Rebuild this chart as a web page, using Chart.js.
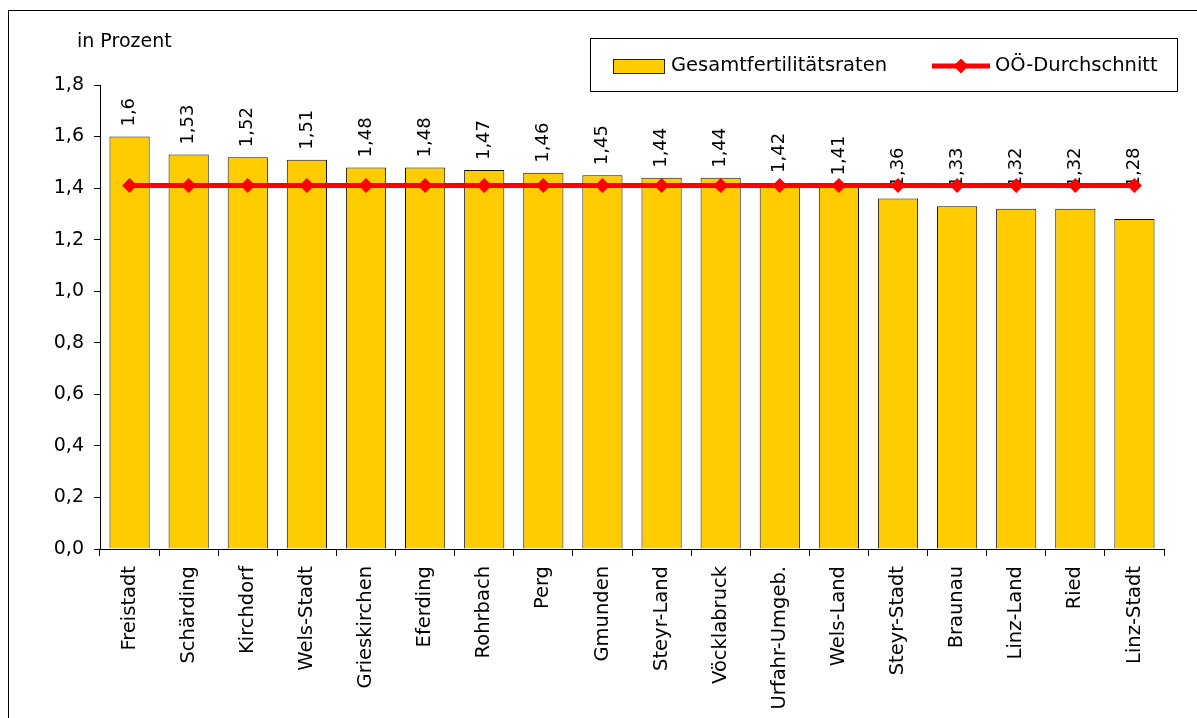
<!DOCTYPE html>
<html lang="de">
<head>
<meta charset="utf-8">
<title>Gesamtfertilitätsraten nach Bezirken</title>
<script src="https://cdn.jsdelivr.net/npm/chart.js@4/dist/chart.umd.min.js"></script>
<style>
  html, body { margin: 0; padding: 0; background: #fff; }
  #wrap { width: 1197px; height: 718px; }
</style>
</head>
<body>
<div id="wrap"><canvas id="c" width="1197" height="718"></canvas></div>
<script>
// Bezirke Oberösterreichs, absteigend nach Gesamtfertilitätsrate
const bezirke = ['Freistadt', 'Schärding', 'Kirchdorf', 'Wels-Stadt', 'Grieskirchen', 'Eferding',
  'Rohrbach', 'Perg', 'Gmunden', 'Steyr-Land', 'Vöcklabruck', 'Urfahr-Umgeb.', 'Wels-Land',
  'Steyr-Stadt', 'Braunau', 'Linz-Land', 'Ried', 'Linz-Stadt'];
const fertilitaet = [1.6, 1.53, 1.52, 1.51, 1.48, 1.48, 1.47, 1.46, 1.45, 1.44, 1.44, 1.42, 1.41,
  1.36, 1.33, 1.32, 1.32, 1.28];
const ooeDurchschnitt = [1.41, 1.41, 1.41, 1.41, 1.41, 1.41, 1.41, 1.41, 1.41, 1.41, 1.41, 1.41,
  1.41, 1.41, 1.41, 1.41, 1.41, 1.41];
const yTicks = { min: 0, max: 1.8, step: 0.2 };
const seriesNames = ['Gesamtfertilitätsraten', 'OÖ-Durchschnitt'];
const unitLabel = 'in Prozent';

const FONT = '"DejaVu Sans", Verdana, sans-serif';
const GOLD = '#FFCC00';
const RED = '#FF0000';
const fmt = v => v.toLocaleString('de-AT');

// Frame, unit caption and boxed legend
const decorations = {
  id: 'decorations',
  beforeDraw(chart) {
    const ctx = chart.ctx;
    ctx.save();
    ctx.fillStyle = '#fff';
    ctx.fillRect(0, 0, chart.width, chart.height);
    ctx.strokeStyle = '#000';
    ctx.lineWidth = 1;
    ctx.strokeRect(8.5, 10.5, chart.width + 20, chart.height + 20);
    ctx.restore();
  },
  afterDraw(chart) {
    const ctx = chart.ctx;
    ctx.save();
    ctx.fillStyle = '#000';
    ctx.font = '19px ' + FONT;
    ctx.textBaseline = 'middle';
    ctx.textAlign = 'left';
    ctx.fillText(unitLabel, 77, 42);

    // legend box
    ctx.strokeStyle = '#000';
    ctx.lineWidth = 1;
    ctx.fillStyle = '#fff';
    ctx.fillRect(590.5, 38.5, 587, 53);
    ctx.strokeRect(590.5, 38.5, 587, 53);
    // bar swatch
    ctx.fillStyle = GOLD;
    ctx.fillRect(613.5, 59.5, 51, 14);
    ctx.strokeStyle = '#222';
    ctx.strokeRect(613.5, 59.5, 51, 14);
    ctx.fillStyle = '#000';
    ctx.font = '19.5px ' + FONT;
    ctx.fillText(seriesNames[0], 671, 66);
    // line swatch
    ctx.strokeStyle = RED;
    ctx.lineWidth = 5;
    ctx.beginPath();
    ctx.moveTo(932, 66);
    ctx.lineTo(990, 66);
    ctx.stroke();
    ctx.fillStyle = RED;
    ctx.beginPath();
    ctx.moveTo(961, 58.5);
    ctx.lineTo(968.5, 66);
    ctx.lineTo(961, 73.5);
    ctx.lineTo(953.5, 66);
    ctx.closePath();
    ctx.fill();
    ctx.fillStyle = '#000';
    ctx.fillText(seriesNames[1], 995, 66);
    ctx.restore();
  }
};

// Vertical value labels above the bars, drawn before the average line
const barLabels = {
  id: 'barLabels',
  afterDatasetDraw(chart, args) {
    if (args.index !== 0) return;
    const ctx = chart.ctx;
    const meta = chart.getDatasetMeta(0);
    const lineY = chart.scales.y.getPixelForValue(ooeDurchschnitt[0]);
    ctx.save();
    ctx.fillStyle = '#000';
    ctx.font = '18px ' + FONT;
    ctx.textAlign = 'left';
    ctx.textBaseline = 'middle';
    meta.data.forEach((bar, i) => {
      const end = Math.min(bar.y - 10, lineY + 2);
      ctx.save();
      ctx.translate(bar.x, end);
      ctx.rotate(-Math.PI / 2);
      ctx.fillText(fmt(fertilitaet[i]), 0, 0);
      ctx.restore();
    });
    ctx.restore();
  }
};

new Chart(document.getElementById('c'), {
  data: {
    labels: bezirke,
    datasets: [
      {
        type: 'bar',
        label: seriesNames[0],
        data: fertilitaet,
        backgroundColor: GOLD,
        borderColor: '#111',
        borderWidth: 1,
        barPercentage: 0.68,
        categoryPercentage: 1,
        order: 2
      },
      {
        type: 'line',
        label: seriesNames[1],
        data: ooeDurchschnitt,
        borderColor: RED,
        borderWidth: 5,
        backgroundColor: RED,
        pointStyle: 'rectRot',
        pointRadius: 7.5,
        pointBorderWidth: 0,
        pointBackgroundColor: RED,
        fill: false,
        order: 1
      }
    ]
  },
  options: {
    responsive: false,
    animation: false,
    devicePixelRatio: 1,
    layout: { padding: { top: 85, right: 33, left: 0, bottom: 0 } },
    plugins: {
      legend: { display: false },
      tooltip: { enabled: false },
      title: { display: false }
    },
    scales: {
      x: {
        offset: true,
        grid: { display: true, offset: true, drawOnChartArea: false, drawTicks: true, tickLength: 7, color: '#000' },
        border: { display: true, color: '#000', width: 1 },
        ticks: {
          minRotation: 90, maxRotation: 90, autoSkip: false, padding: 10,
          color: '#000', font: { family: FONT, size: 19.5 }
        },
        afterFit(scale) { scale.height = 169; }
      },
      y: {
        min: yTicks.min,
        max: yTicks.max,
        grid: { display: true, drawOnChartArea: false, drawTicks: true, tickLength: 6, color: '#000' },
        border: { display: true, color: '#000', width: 1 },
        ticks: {
          stepSize: yTicks.step,
          padding: 10,
          color: '#000',
          font: { family: FONT, size: 19 },
          callback: v => v.toLocaleString('de-AT', { minimumFractionDigits: 1, maximumFractionDigits: 1 })
        },
        afterFit(scale) { scale.width = 100; }
      }
    }
  },
  plugins: [decorations, barLabels]
});
</script>
</body>
</html>
